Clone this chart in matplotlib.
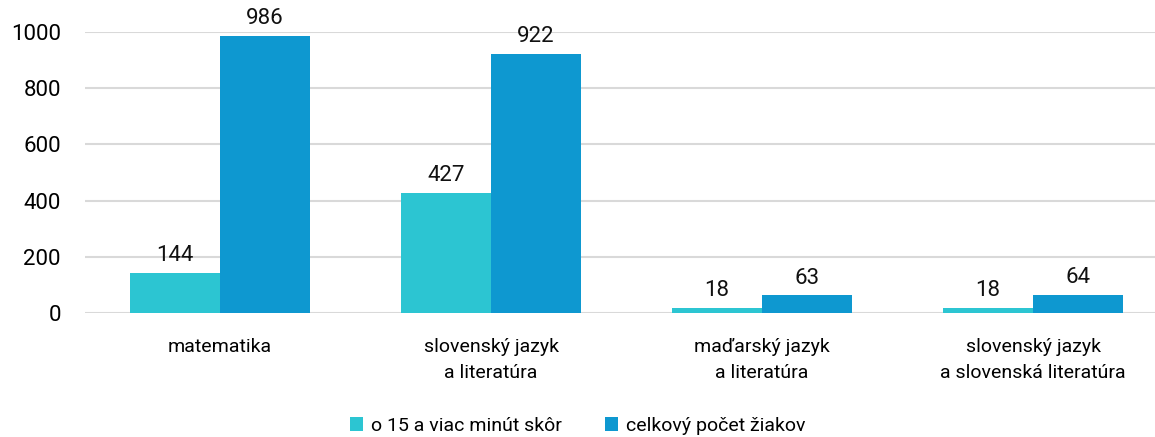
import matplotlib.pyplot as plt
import numpy as np

plt.rcParams['font.family'] = ['Roboto', 'DejaVu Sans']

# Data
kategorie = ['matematika', 'slovenský jazyk\na literatúra', 'maďarský jazyk\na literatúra',
             'slovenský jazyk\na slovenská literatúra']
skor = [144, 427, 18, 18]
celkom = [986, 922, 63, 64]
nazvy = ['o 15 a viac minút skôr', 'celkový počet žiakov']
farby = ['#2CC5D2', '#0E98D0']

fig = plt.figure(figsize=(11.55, 4.37), dpi=100)
ax = fig.add_axes([84.5 / 1155, 1 - 313 / 437, 1084 / 1155, 281 / 437])

x = np.arange(len(kategorie))
w = 0.332
b1 = ax.bar(x - w / 2, skor, w, color=farby[0], label=nazvy[0], zorder=3)
b2 = ax.bar(x + w / 2, celkom, w, color=farby[1], label=nazvy[1], zorder=3)

for bars, vals in ((b1, skor), (b2, celkom)):
    for r, v in zip(bars, vals):
        ax.text(r.get_x() + r.get_width() / 2, v + 24, str(v), ha='center', va='bottom',
                fontsize=16, color='#111111', clip_on=False)

ax.set_xlim(-0.5, len(kategorie) - 0.5)
ax.set_ylim(0, 1000)
ax.set_yticks(range(0, 1001, 200))
ax.grid(axis='y', color='#D9D9D9', linewidth=1.5, zorder=0)
ax.set_xticks(x)
ax.set_xticklabels(kategorie, fontsize=14, linespacing=1.6)
ax.tick_params(axis='x', length=0, pad=18)
ax.tick_params(axis='y', length=0, pad=17, labelsize=16)
for s in ax.spines.values():
    s.set_visible(False)

fig.legend(loc='lower center', bbox_to_anchor=(0.5, -0.035), ncol=2, frameon=False,
           fontsize=14, handlelength=0.7, handleheight=0.7, handletextpad=0.4,
           columnspacing=2.2)

fig.savefig('out.png', dpi=100)
